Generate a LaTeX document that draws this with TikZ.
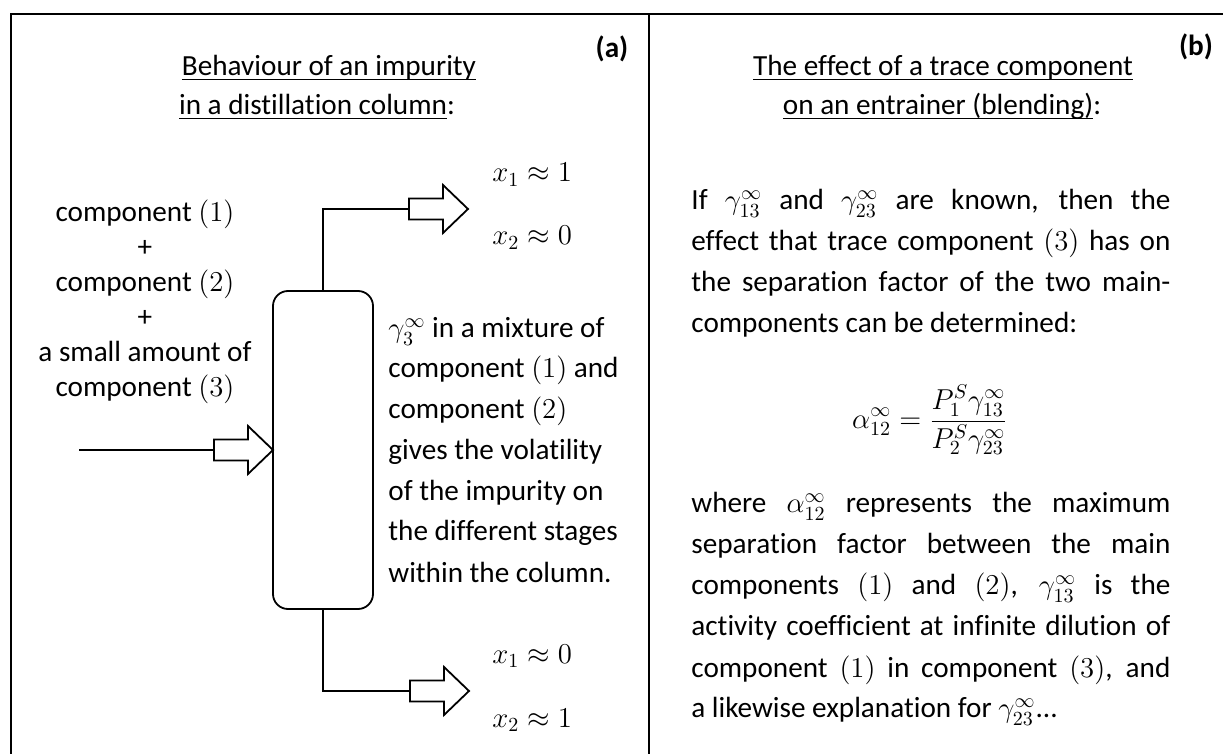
\documentclass[tikz,border=0pt]{standalone}
\usepackage{fontspec}
\setmainfont{Carlito}[Ligatures=NoCommon]
\newsavebox{\ulbox}
\newcommand{\undl}[1]{\sbox{\ulbox}{#1}\rlap{\rule[-2.1pt]{\wd\ulbox}{0.8pt}}\usebox{\ulbox}}
\newcommand{\jline}[1]{\makebox[239.5pt][s]{#1}}
\begin{document}
\begin{tikzpicture}[x=0.5pt,y=-0.5pt,
  txt/.style={anchor=base, inner sep=0pt, font=\fontsize{14.6pt}{17.25pt}\selectfont},
  ltxt/.style={txt, anchor=base west},
  frame/.style={line width=1pt},
  pipe/.style={line width=1pt},
  columnbox/.style={draw, line width=0.9pt, rounded corners=7.5pt, minimum width=50pt, minimum height=159pt, inner sep=0pt},
  arrowbox/.style={draw, line width=0.9pt, fill=white, line join=miter}]
\useasboundingbox (0,0) rectangle (1223,754);
\fill[white] (0,0) rectangle (1223,754);
% frame
\draw[frame] (11,754) -- (11,14) -- (1223,14);
\draw[frame] (649,14) -- (649,754);

\newcommand{\hollowarrow}[2]{%
  \draw[arrowbox] (#1,#2-10.5) -- ++(34,0) -- ++(0,-13.5) -- ++(25,24) -- ++(-25,24) -- ++(0,-13.5) -- ++(-34,0) -- cycle;}

% ---------- panel (a)
\node[txt] (ta1) at (329,76) {\undl{Behaviour of an impurity}};
\node[txt] (ta2) at (317,115) {\undl{in a distillation column}:};
\node[txt, font=\fontsize{14.6pt}{17.25pt}\selectfont\bfseries] (la) at (612,58) {(a)};

\node[txt] (f1) at (145,222) {component $(1)$};
\node[txt] (f2) at (145,257) {+};
\node[txt] (f3) at (145,292) {component $(2)$};
\node[txt] (f4) at (145,327) {+};
\node[txt] (f5) at (145,362) {a small amount of};
\node[txt] (f6) at (145,397) {component $(3)$};

\node[columnbox] (col) at (323,450) {};

\coordinate (feedstart) at (79,450);
\coordinate (feedin) at (214,450);
\coordinate (topin) at (409,209);
\coordinate (botin) at (410,691);

\draw[pipe] (feedstart) -- (feedin);
\draw[pipe] (col.north) |- (topin);
\draw[pipe] (col.south) |- (botin);
\hollowarrow{214}{450}
\hollowarrow{409}{209}
\hollowarrow{410}{691}

\node[ltxt] (xt1) at (492,182) {$x_1 \approx 1$};
\node[ltxt] (xt2) at (492,245) {$x_2 \approx 0$};
\node[ltxt] (xb1) at (492,663) {$x_1 \approx 0$};
\node[ltxt] (xb2) at (492,727) {$x_2 \approx 1$};

\node[ltxt] (g1) at (388,338) {$\gamma_3^{\infty}$ in a mixture of};
\node[ltxt] (g2) at (388,378) {component $(1)$ and};
\node[ltxt] (g3) at (388,419) {component $(2)$};
\node[ltxt] (g4) at (388,460) {gives the volatility};
\node[ltxt] (g5) at (388,501) {of the impurity on};
\node[ltxt] (g6) at (388,541) {the different stages};
\node[ltxt] (g7) at (388,582) {within the column.};

% ---------- panel (b)
\node[txt] (tb1) at (943,76) {\undl{The effect of a trace component}};
\node[txt] (tb2) at (942,115) {\undl{on an entrainer (blending)}:};
\node[txt, font=\fontsize{14.6pt}{17.25pt}\selectfont\bfseries] (lb) at (1196,56) {(b)};

\node[ltxt] (r1) at (691,210) {\jline{If $\gamma_{13}^{\infty}$ and $\gamma_{23}^{\infty}$ are known, then the}};
\node[ltxt] (r2) at (691,251) {\jline{effect that trace component $(3)$ has on}};
\node[ltxt] (r3) at (691,292) {\jline{the separation factor of the two main-}};
\node[ltxt] (r4) at (691,333) {components can be determined:};

\node[inner sep=0pt, font=\fontsize{14.6pt}{17.25pt}\selectfont] (eq) at (930,420)
  {$\displaystyle \alpha_{12}^{\infty}=\frac{P_1^S\gamma_{13}^{\infty}}{P_2^S\gamma_{23}^{\infty}}$};

\node[ltxt] (r5) at (691,513) {\jline{where $\alpha_{12}^{\infty}$ represents the maximum}};
\node[ltxt] (r6) at (691,554) {\jline{separation factor between the main}};
\node[ltxt] (r7) at (691,595) {\jline{components $(1)$ and $(2)$, $\gamma_{13}^{\infty}$ is the}};
\node[ltxt] (r8) at (691,636) {\jline{activity coefficient at infinite dilution of}};
\node[ltxt] (r9) at (691,677) {\jline{component $(1)$ in component $(3)$, and}};
\node[ltxt] (r10) at (691,718) {a likewise explanation for $\gamma_{23}^{\infty}$...};
\end{tikzpicture}
\end{document}
